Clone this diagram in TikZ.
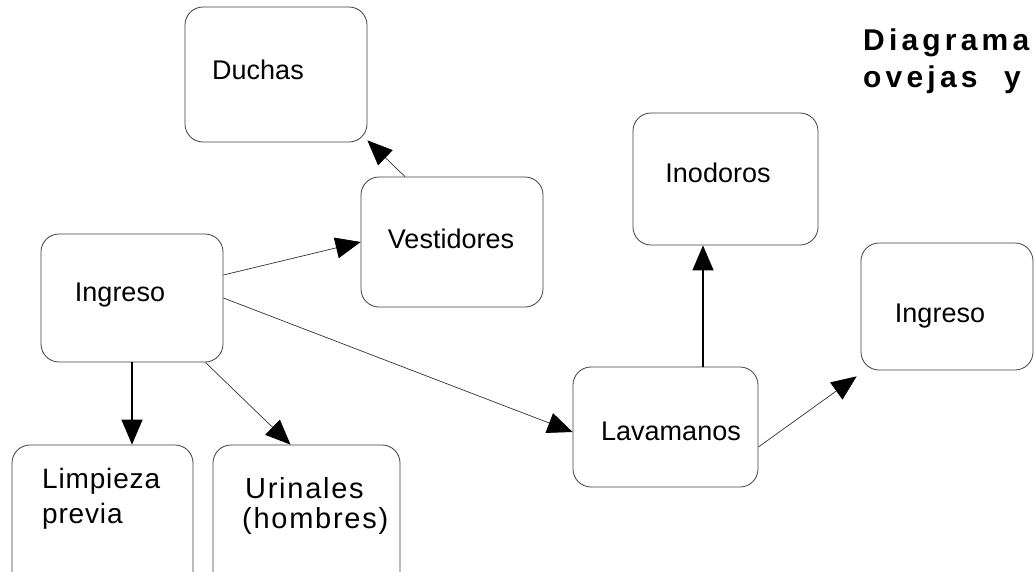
\documentclass[tikz,border=0pt]{standalone}
\usepackage{fontspec}
\setmainfont{Liberation Sans}
\usetikzlibrary{arrows.meta,calc}
\begin{document}
\begin{tikzpicture}[x=1pt,y=-1pt,
  box/.style={draw=black!75, line width=0.8pt, rounded corners=18pt, inner sep=0pt},
  lbl/.style={font=\fontsize{27}{32}\selectfont, inner sep=0pt, anchor=base},
  wlbl/.style={font=\fontsize{28}{34}\selectfont\addfontfeature{LetterSpace=3}, inner sep=0pt, anchor=base west},
  ulbl/.style={font=\fontsize{29}{34}\selectfont\addfontfeature{LetterSpace=6}, inner sep=0pt, anchor=base west},
  thinarrow/.style={draw=black!80, line width=0.7pt, -{Triangle[length=25pt,width=21pt,color=black]}},
  thickarrow/.style={draw=black, line width=1.3pt, -{Triangle[length=25pt,width=21pt]}},
  titletext/.style={font=\fontsize{30}{34}\selectfont\bfseries\addfontfeature{LetterSpace=14}, inner sep=0pt, anchor=base west}]
\useasboundingbox (0,0) rectangle (1034,571);
\clip (0,0) rectangle (1034,571);
\fill[white] (0,0) rectangle (1034,571);

% boxes
\node[box, minimum width=182pt, minimum height=135pt] (duchas) at (276,74.5) {};
\node[box, minimum width=182pt, minimum height=130pt] (vest) at (452,242) {};
\node[box, minimum width=182pt, minimum height=128pt] (ingL) at (132,298) {};
\node[box, minimum width=185pt, minimum height=132pt] (inod) at (725.5,179) {};
\node[box, minimum width=172pt, minimum height=127pt] (ingR) at (947,306.5) {};
\node[box, minimum width=185pt, minimum height=120pt] (lav) at (665.5,427) {};
\node[box, minimum width=181pt, minimum height=155pt] (limp) at (102.5,522.5) {};
\node[box, minimum width=187pt, minimum height=155pt] (urin) at (306.5,522.5) {};

% labels
\node[lbl] (tduchas) at (258,79) {Duchas};
\node[lbl] (tingL) at (120,301) {Ingreso};
\node[lbl] (tvest) at (451,248) {Vestidores};
\node[lbl] (tinod) at (718,182) {Inodoros};
\node[lbl] (tingR) at (940,322) {Ingreso};
\node[lbl] (tlav) at (671,440) {Lavamanos};
\node[wlbl] (tlimp1) at (42,488) {Limpieza};
\node[wlbl] (tlimp2) at (42,523) {previa};
\node[ulbl] (turin1) at (245,498) {Urinales};
\node[ulbl] (turin2) at (242,528) {(hombres)};

% title
\node[titletext] (title1) at (863,50) {Diagrama};
\node[titletext] (title2) at (863,87) {ovejas\hspace{14pt} y};

% connectors
\draw[thinarrow] ([yshift=23pt]ingL.east) -- (vest.west);
\draw[thinarrow] (ingL.east) -- ([yshift=-5pt]lav.west);
\draw[thickarrow] (ingL.south) -- (ingL.south |- limp.north);
\draw[thinarrow] ([xshift=-18pt]ingL.south east) -- ([xshift=-16pt]urin.north);
\draw[thinarrow] ([xshift=-47pt]vest.north) -- ([yshift=2pt]duchas.south east);
\draw[thickarrow] ([xshift=37.5pt]lav.north) coordinate (lp) -- (lp |- inod.south);
\draw[thinarrow] ([yshift=-20pt]lav.east) -- ([xshift=-4pt,yshift=-6pt]ingR.south west);
\end{tikzpicture}
\end{document}
